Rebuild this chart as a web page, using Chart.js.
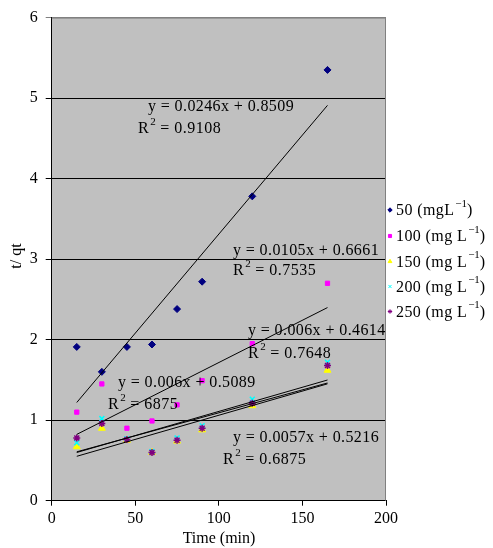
<!DOCTYPE html>
<html>
<head>
<meta charset="utf-8">
<script src="https://cdn.jsdelivr.net/npm/chart.js@4.4.1/dist/chart.umd.min.js"></script>
<style>
  html, body { margin: 0; padding: 0; background: #fff; }
  canvas { display: block; }
</style>
</head>
<body>
<canvas id="myChart" width="493" height="548"></canvas>
<script>
'use strict';

// ************ DATA
let times = [15, 30, 45, 60, 75, 90, 120, 165];
let conc50 = [1.91, 1.60, 1.91, 1.94, 2.38, 2.72, 3.78, 5.35];
let conc100 = [1.10, 1.45, 0.90, 0.99, 1.19, 1.49, 1.95, 2.70];
let conc150 = [0.67, 0.90, 0.75, 0.60, 0.74, 0.88, 1.18, 1.62];
let conc200 = [0.72, 1.02, 0.77, 0.61, 0.78, 0.93, 1.26, 1.72];
let conc250 = [0.78, 0.96, 0.76, 0.60, 0.75, 0.90, 1.21, 1.68];

let seriesNames = ['50', '100', '150', '200', '250'];

// linear trendlines as printed on the chart
let trendSlopes = [0.0246, 0.0105, 0.006, 0.006, 0.0057];
let trendIntercepts = [0.8509, 0.6661, 0.4614, 0.5089, 0.5216];
let r2Values = ['0.9108', '0.7535', '0.7648', '6875', '0.6875'];

let xTicks = [0, 50, 100, 150, 200];
let yTicks = [0, 1, 2, 3, 4, 5, 6];

// ************ STYLE
const serif = '"Liberation Serif", "Times New Roman", serif';
const colors = ['#000080', '#FF00FF', '#FFFF00', '#00FFFF', '#800080'];
const styles = ['rectRot', 'rect', 'triangle', 'crossRot', 'star'];
const radii = [3.5, 3, 4, 3.5, 3.5];

// where each equation label sits (left x, baseline y) in canvas pixels
const eqPos = [[148, 110.5], [233, 255], [248, 335], [118, 387], [233, 442]];
const r2Pos = [[138, 133], [233, 275], [248, 358], [108, 409], [223, 464]];

const allSeries = [conc50, conc100, conc150, conc200, conc250];

function toPoints(ys) {
  let pts = [];
  for (let i = 0; i < times.length; i++) {
    pts.push({ x: times[i], y: ys[i] });
  }
  return pts;
}

let datasets = [];
for (let i = 0; i < allSeries.length; i++) {
  datasets.push({
    label: seriesNames[i],
    data: toPoints(allSeries[i]),
    showLine: false,
    pointStyle: styles[i],
    pointRadius: radii[i],
    pointBackgroundColor: colors[i],
    pointBorderColor: colors[i],
    pointBorderWidth: (i >= 3) ? 1.5 : 1,
    order: 10 - i
  });
}

// trendlines from first to last time
let xFirst = times[0];
let xLast = times[times.length - 1];
for (let i = 0; i < trendSlopes.length; i++) {
  datasets.push({
    label: 'trend' + i,
    data: [
      { x: xFirst, y: trendSlopes[i] * xFirst + trendIntercepts[i] },
      { x: xLast, y: trendSlopes[i] * xLast + trendIntercepts[i] }
    ],
    showLine: true,
    borderColor: '#000',
    borderWidth: 1,
    pointRadius: 0,
    order: 0
  });
}

// draw text with superscript parts: [[text, isSup], ...]
function drawRich(ctx, parts, x, y, size, spacing) {
  let cx = x;
  for (let p of parts) {
    if (p[1]) {
      ctx.font = Math.round(size * 0.68) + 'px ' + serif;
      ctx.letterSpacing = '0px';
      ctx.fillText(p[0], cx + 1, y - size * 0.52);
      cx += ctx.measureText(p[0]).width + 1;
    } else {
      ctx.font = size + 'px ' + serif;
      ctx.letterSpacing = spacing + 'px';
      ctx.fillText(p[0], cx, y);
      cx += ctx.measureText(p[0]).width;
    }
  }
  ctx.letterSpacing = '0px';
}

const decorations = {
  id: 'decorations',
  beforeDraw(chart) {
    const c = chart.ctx;
    const a = chart.chartArea;
    c.save();
    c.fillStyle = '#fff';
    c.fillRect(0, 0, chart.width, chart.height);
    c.fillStyle = '#C0C0C0';
    c.fillRect(a.left, a.top, a.right - a.left, a.bottom - a.top);
    c.restore();
  },
  beforeDatasetsDraw(chart) {
    const c = chart.ctx;
    const a = chart.chartArea;
    c.save();
    c.strokeStyle = '#808080';
    c.lineWidth = 1;
    c.beginPath();
    c.moveTo(a.left, a.top + 0.5);
    c.lineTo(a.right - 0.5, a.top + 0.5);
    c.lineTo(a.right - 0.5, a.bottom);
    c.stroke();
    c.restore();
  },
  afterDraw(chart) {
    const c = chart.ctx;
    c.save();
    c.fillStyle = '#000';
    c.textAlign = 'left';
    c.textBaseline = 'alphabetic';

    // trendline equations
    for (let i = 0; i < trendSlopes.length; i++) {
      let eq = 'y = ' + trendSlopes[i] + 'x + ' + trendIntercepts[i].toFixed(4);
      drawRich(c, [[eq, 0]], eqPos[i][0], eqPos[i][1], 16, 0.4);
      drawRich(c, [['R', 0], ['2', 1], [' = ' + r2Values[i], 0]], r2Pos[i][0], r2Pos[i][1], 16, 0.5);
    }

    // legend
    let legendY = [210, 236, 261.5, 286.5, 311.5];
    for (let i = 0; i < seriesNames.length; i++) {
      let ly = legendY[i];
      c.fillStyle = colors[i];
      c.strokeStyle = colors[i];
      Chart.helpers.drawPoint(c, {
        pointStyle: styles[i],
        radius: 2.2,
        borderWidth: 1
      }, 390, ly);
      c.fillStyle = '#000';
      let unit = (i === 0) ? ' (mgL' : ' (mg L';
      drawRich(c, [[seriesNames[i] + unit, 0], ['\u22121', 1], [')', 0]], 396, ly + 5, 16, 0.4);
    }

    // axis titles
    c.font = '16px ' + serif;
    c.textAlign = 'center';
    c.fillText('Time (min)', 219, 543);
    c.translate(16, 256);
    c.rotate(-Math.PI / 2);
    c.fillText('t/ qt', 0, 5);
    c.restore();
  }
};

const ctx = document.getElementById('myChart').getContext('2d');

const chartObj = {
  type: 'scatter',
  data: { datasets: datasets },
  options: {
    responsive: false,
    animation: false,
    devicePixelRatio: 1,
    layout: { padding: { top: 14, right: 107, left: 0, bottom: 0 } },
    plugins: {
      legend: { display: false },
      tooltip: { enabled: false }
    },
    scales: {
      x: {
        type: 'linear',
        min: xTicks[0],
        max: xTicks[xTicks.length - 1],
        afterBuildTicks: (s) => { s.ticks = xTicks.map(v => ({ value: v })); },
        afterFit: (s) => { s.height = 47.3; },
        ticks: { color: '#000', font: { family: serif, size: 16 }, padding: 3 },
        grid: { drawOnChartArea: false, tickLength: 5, color: '#000' },
        border: { color: '#000' }
      },
      y: {
        type: 'linear',
        min: yTicks[0],
        max: yTicks[yTicks.length - 1],
        afterBuildTicks: (s) => { s.ticks = yTicks.map(v => ({ value: v })); },
        afterFit: (s) => { s.width = 51.7; },
        ticks: { color: '#000', font: { family: serif, size: 16 }, padding: 8 },
        grid: {
          tickLength: 6,
          color: (c) => (c.tick && c.tick.value === 6) ? '#808080' : '#000'
        },
        border: { color: '#000' }
      }
    }
  },
  plugins: [decorations]
};

const myChart = new Chart(ctx, chartObj); // eslint-disable-line
</script>
</body>
</html>
